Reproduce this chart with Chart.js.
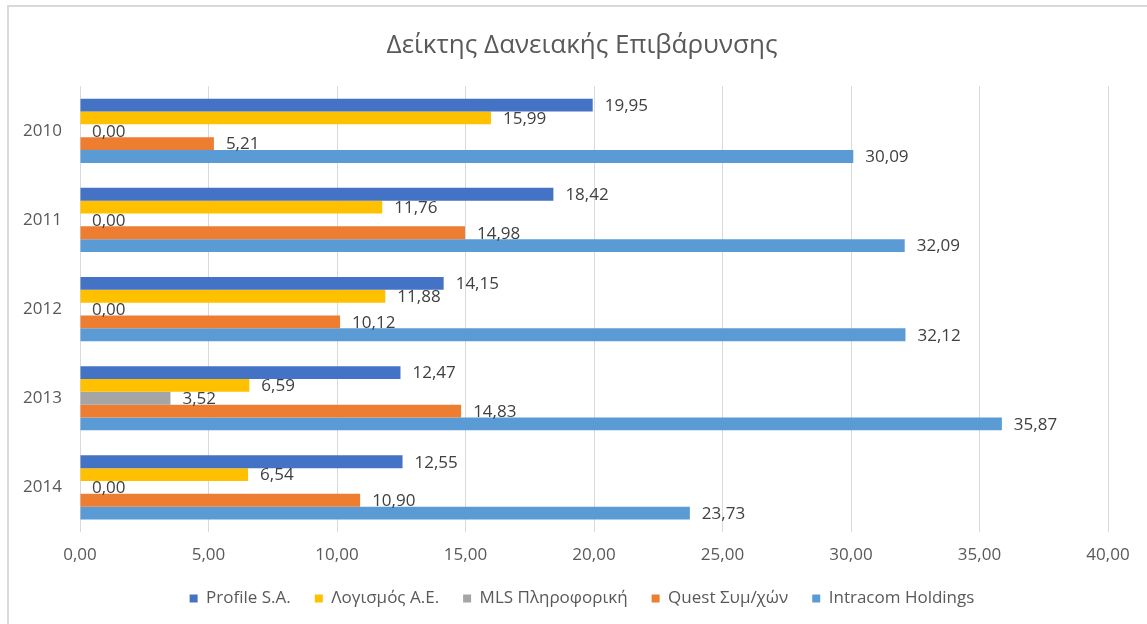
<!DOCTYPE html>
<html>
<head>
<meta charset="utf-8">
<script src="https://cdn.jsdelivr.net/npm/chart.js@4.4.0/dist/chart.umd.min.js"></script>
<style>
  html, body { margin: 0; padding: 0; background: #fff; overflow: hidden; }
  #wrap { position: relative; width: 1147px; height: 624px; overflow: hidden; }
  #frame { position: absolute; left: 7px; top: 5px; width: 1160px; height: 640px; border-top: 2px solid #d9d9d9; border-left: 2px solid #d9d9d9; pointer-events: none; }
  canvas { position: absolute; left: 0; top: 0; }
</style>
</head>
<body>
<div id="wrap">
  <canvas id="chart" width="1164" height="624"></canvas>
  <div id="frame"></div>
</div>
<script>
const years = ['2010', '2011', '2012', '2013', '2014'];
const profile = [19.95, 18.42, 14.15, 12.47, 12.55];
const logismos = [15.99, 11.76, 11.88, 6.59, 6.54];
const mls = [0.00, 0.00, 0.00, 3.52, 0.00];
const quest = [5.21, 14.98, 10.12, 14.83, 10.90];
const intracom = [30.09, 32.09, 32.12, 35.87, 23.73];

const FONT = "'Open Sans', sans-serif";

function fmt(v) {
  return v.toFixed(2).replace('.', ',');
}

// value labels just right of each bar end
const labelPlugin = {
  id: 'barLabels',
  afterDatasetsDraw: function (chart) {
    const ctx = chart.ctx;
    ctx.save();
    ctx.font = '17px ' + FONT;
    ctx.fillStyle = '#404040';
    ctx.textAlign = 'left';
    ctx.textBaseline = 'middle';
    chart.data.datasets.forEach(function (ds, i) {
      const meta = chart.getDatasetMeta(i);
      meta.data.forEach(function (bar, j) {
        ctx.fillText(fmt(ds.data[j]), bar.x + 12, bar.y + 1);
      });
    });
    ctx.restore();
  }
};

const chart = new Chart(document.getElementById('chart').getContext('2d'), {
  type: 'bar',
  data: {
    labels: years,
    datasets: [
      { label: 'Profile S.A.', data: profile, backgroundColor: '#4472c4' },
      { label: 'Λογισμός Α.Ε.', data: logismos, backgroundColor: '#ffc000' },
      { label: 'MLS Πληροφορική', data: mls, backgroundColor: '#a5a5a5' },
      { label: 'Quest Συμ/χών', data: quest, backgroundColor: '#ed7d31' },
      { label: 'Intracom Holdings', data: intracom, backgroundColor: '#5b9bd5' }
    ]
  },
  options: {
    indexAxis: 'y',
    responsive: false,
    animation: false,
    datasets: { bar: { categoryPercentage: 0.72, barPercentage: 1.0 } },
    layout: { padding: { left: 0, right: 0, top: 10, bottom: 7 } },
    scales: {
      x: {
        min: 0,
        max: 40,
        afterFit: function (axis) {
          axis.height = 34;
          axis.paddingRight = 56;
        },
        ticks: { stepSize: 5, color: '#595959', font: { family: FONT, size: 17 }, padding: 13, callback: function (v) { return fmt(v); } },
        grid: { color: '#d9d9d9', drawTicks: false },
        border: { display: false }
      },
      y: {
        afterFit: function (axis) { axis.width = 80; },
        ticks: { color: '#595959', font: { family: FONT, size: 17 }, padding: 18 },
        grid: { display: false, drawTicks: false },
        border: { display: false }
      }
    },
    plugins: {
      title: {
        display: true,
        text: 'Δείκτης Δανειακής Επιβάρυνσης',
        color: '#595959',
        font: { family: FONT, size: 26, weight: 'normal' },
        padding: { top: 20, bottom: 25 }
      },
      legend: {
        position: 'bottom',
        labels: {
          color: '#595959',
          font: { family: FONT, size: 17 },
          boxWidth: 8,
          boxHeight: 8,
          padding: 24
        }
      },
      tooltip: { enabled: false }
    }
  },
  plugins: [labelPlugin]
});
</script>
</body>
</html>
